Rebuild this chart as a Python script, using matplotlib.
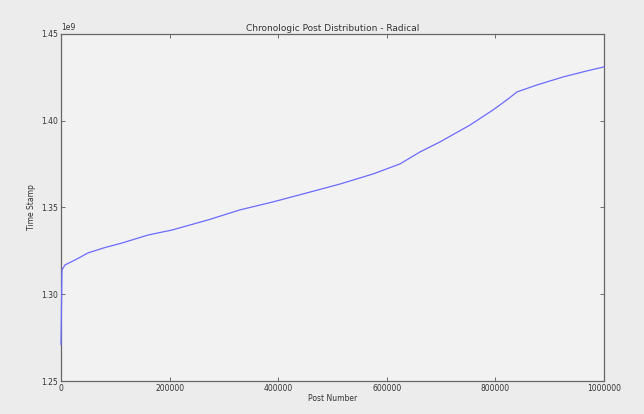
import matplotlib
matplotlib.use("Agg")
import matplotlib.pyplot as plt
import numpy as np
from matplotlib.ticker import ScalarFormatter

post_number = [0, 1800, 7400, 25800, 49700, 80000, 112300, 160200, 204400, 270700,
               329600, 390400, 453000, 513800, 574600, 624300, 661100, 698000,
               753200, 795600, 823200, 839800, 876600, 924500, 968700, 1000000]
timestamp = [1.271, 1.314, 1.3169, 1.3197, 1.3238, 1.3268, 1.3295, 1.3341, 1.3370, 1.3428,
             1.3486, 1.3532, 1.3584, 1.3635, 1.3693, 1.3751, 1.3820, 1.3878,
             1.3975, 1.4062, 1.4125, 1.4166, 1.4206, 1.4252, 1.4287, 1.4310]
timestamp = [v * 1e9 for v in timestamp]

x_ticks = [0, 200000, 400000, 600000, 800000, 1000000]
y_ticks = [1.25e9, 1.30e9, 1.35e9, 1.40e9, 1.45e9]

fig = plt.figure(figsize=(6.441, 4.141), dpi=100, facecolor="#ececec")
ax = fig.add_axes([0.0947, 0.0797, 0.8432, 0.8382])
ax.set_facecolor("#f2f2f2")
ax.plot(post_number, timestamp, color="#6b6bff", linewidth=0.9, zorder=3, clip_on=False)
ax.set_xlim(0, 1000000)
ax.set_ylim(1.25e9, 1.45e9)
ax.set_xticks(x_ticks)
ax.set_yticks(y_ticks)
fmt = ScalarFormatter(useOffset=False)
fmt.set_scientific(True)
fmt.set_powerlimits((0, 0))
ax.yaxis.set_major_formatter(fmt)
ax.xaxis.set_major_formatter(matplotlib.ticker.FuncFormatter(lambda v, p: "%d" % v))
ax.tick_params(direction="in", length=3, width=0.6, labelsize=5.5, colors="#555555",
               labelcolor="#333333", top=True, right=True, pad=2)
ax.yaxis.get_offset_text().set_fontsize(5.5)
ax.yaxis.get_offset_text().set_color("#333333")
for s in ax.spines.values():
    s.set_color("#666666")
    s.set_linewidth(0.9)
ax.set_title("Chronologic Post Distribution - Radical", fontsize=6.5, color="#333333", pad=2)
ax.set_xlabel("Post Number", fontsize=5.5, color="#333333", labelpad=1)
ax.set_ylabel("Time Stamp", fontsize=5.5, color="#333333", labelpad=4)
fig.savefig("out.png", dpi=100, facecolor=fig.get_facecolor())
